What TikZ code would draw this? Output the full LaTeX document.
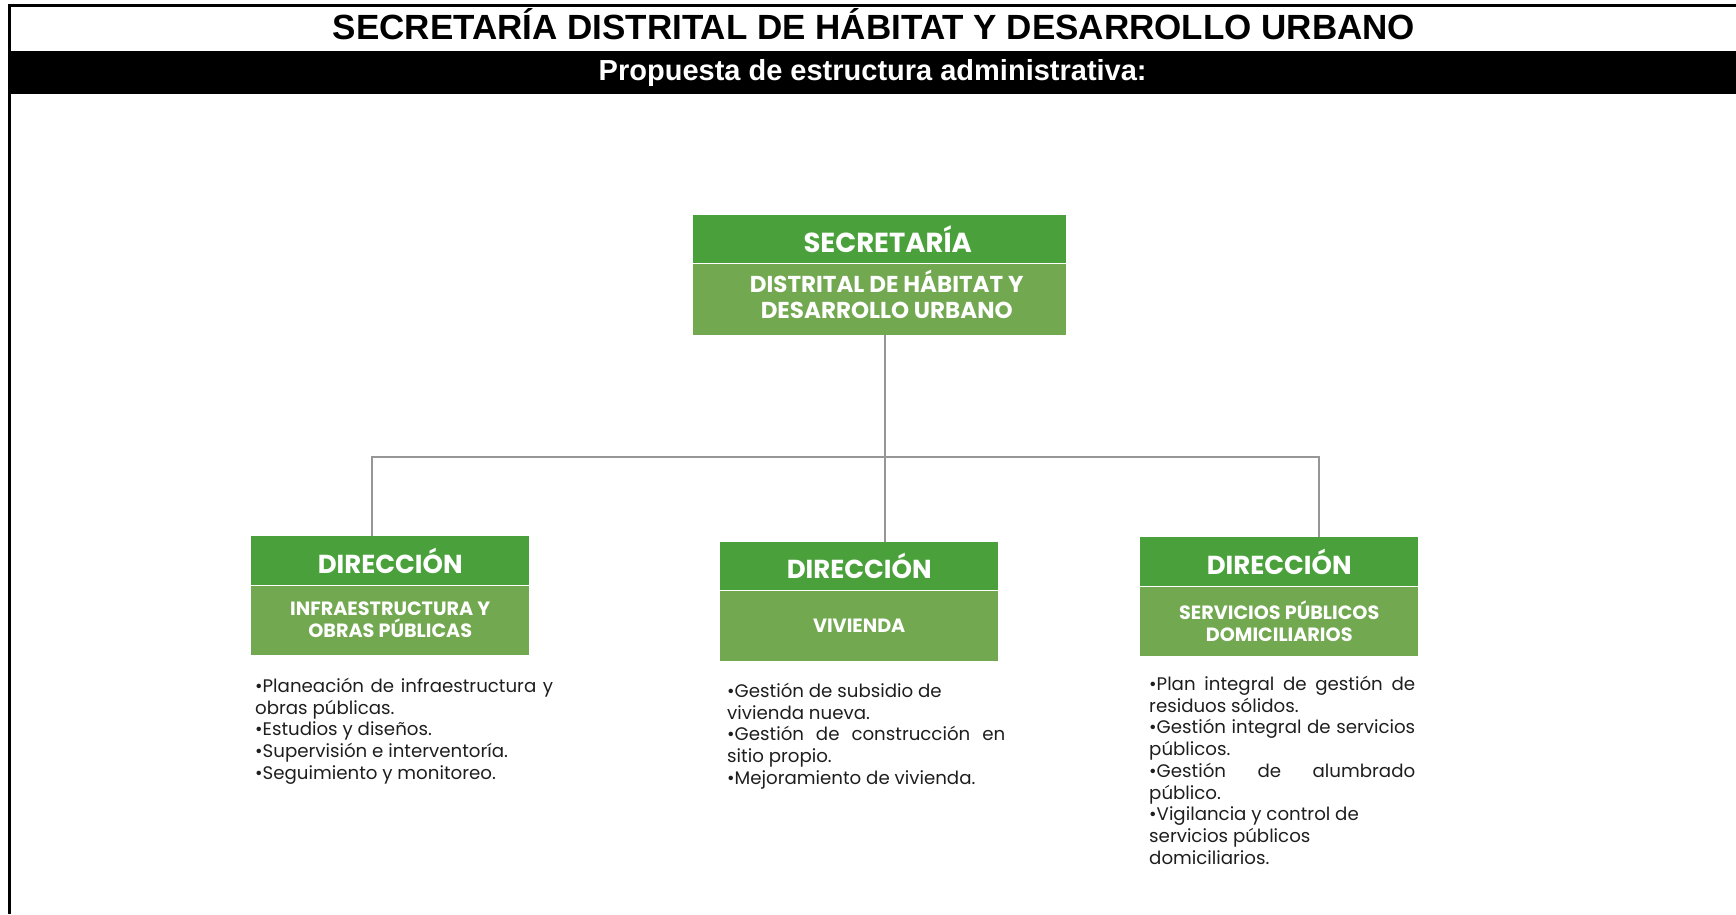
\documentclass[tikz,border=0pt]{standalone}
\usepackage{fontspec}
\setmainfont{Liberation Sans}
\newfontfamily\boxfont{Poppins}
\usetikzlibrary{positioning}
\definecolor{hdgreen}{RGB}{74,161,59}
\definecolor{bdgreen}{RGB}{114,168,80}
\definecolor{linegray}{RGB}{150,150,150}
\definecolor{txtgray}{RGB}{30,30,30}
\tolerance=10000
\hyphenpenalty=10000

\begin{document}
\begin{tikzpicture}[
  x=1pt, y=-1pt,
  head/.style={fill=hdgreen, text=white, anchor=north west, inner sep=0pt,
    minimum width=278pt, minimum height=49pt,
    font=\boxfont\bfseries\fontsize{26}{30}\selectfont},
  body/.style={fill=bdgreen, text=white, below=0pt of #1, inner sep=0pt,
    minimum width=278pt, minimum height=69pt, align=center,
    font=\boxfont\bfseries\fontsize{19.2}{22}\selectfont},
  bullets/.style={anchor=north west, inner sep=0pt, align=justify, text=txtgray,
    font=\boxfont\fontsize{18.2}{21.7}\selectfont},
  conn/.style={draw=linegray, line width=2pt}
]
  \useasboundingbox (0,0) rectangle (1736,914);
  \draw[line width=3pt] (9,914) -- (9,5) -- (1736,5);
  \node[font=\bfseries\fontsize{35}{40}\selectfont] (title) at (874,24)
    {SECRETARÍA DISTRITAL DE HÁBITAT Y DESARROLLO URBANO};
  \node[fill=black, text=white, anchor=north west, minimum width=1727pt, minimum height=43pt,
    inner sep=0pt, font=\bfseries\fontsize{29}{34}\selectfont] (subtitle) at (9,51)
    {Propuesta de estructura administrativa:};

  \node[head, minimum width=373pt, minimum height=48pt] (secHead) at (693,215) {};
  \node[body=secHead, minimum width=373pt, minimum height=71pt] (secBody) {};
  \node[text=white, font=\boxfont\bfseries\fontsize{27.5}{31}\selectfont]
    (secTitle) at ([xshift=8pt]secHead.center) {SECRETARÍA};
  \node[text=white, align=center, font=\boxfont\bfseries\fontsize{23}{25.5}\selectfont]
    (secName) at ([xshift=7pt, yshift=5pt]secBody.center) {DISTRITAL DE HÁBITAT Y\\DESARROLLO URBANO};

  \node[head] (infHead) at (251,536) {DIRECCIÓN};
  \node[body=infHead] (infBody) {INFRAESTRUCTURA Y\\OBRAS PÚBLICAS};
  \node[head, minimum height=48pt] (vivHead) at (720,542) {DIRECCIÓN};
  \node[body=vivHead, minimum height=70pt] (vivBody) {VIVIENDA};
  \node[head] (spdHead) at (1140,537) {DIRECCIÓN};
  \node[body=spdHead] (spdBody) {SERVICIOS PÚBLICOS\\DOMICILIARIOS};

  \node[bullets, text width=298pt] (infList) at (255,678)
    {•Planeación de infraestructura y\linebreak obras públicas.\\
     •Estudios y diseños.\\
     •Supervisión e interventoría.\\
     •Seguimiento y monitoreo.};
  \node[bullets, text width=278pt] (vivList) at (727,683)
    {•Gestión de subsidio de\\
     vivienda nueva.\\
     •Gestión de construcción en\linebreak sitio propio.\\
     •Mejoramiento de vivienda.};
  \node[bullets, text width=266pt] (spdList) at (1149,676)
    {•Plan integral de gestión de\linebreak residuos sólidos.\\
     •Gestión integral de servicios\linebreak públicos.\\
     •Gestión de alumbrado\linebreak público.\\
     •Vigilancia y control de\\
     servicios públicos\\
     domiciliarios.};

  \coordinate (busL) at (372,457);
  \coordinate (busM) at (885,457);
  \coordinate (busR) at (1319,457);
  \draw[conn] (busM |- secBody.south) -- (busM |- vivHead.north);
  \draw[conn] (busL |- infHead.north) -- (busL) -- (busR) -- (busR |- spdHead.north);
\end{tikzpicture}
\end{document}
